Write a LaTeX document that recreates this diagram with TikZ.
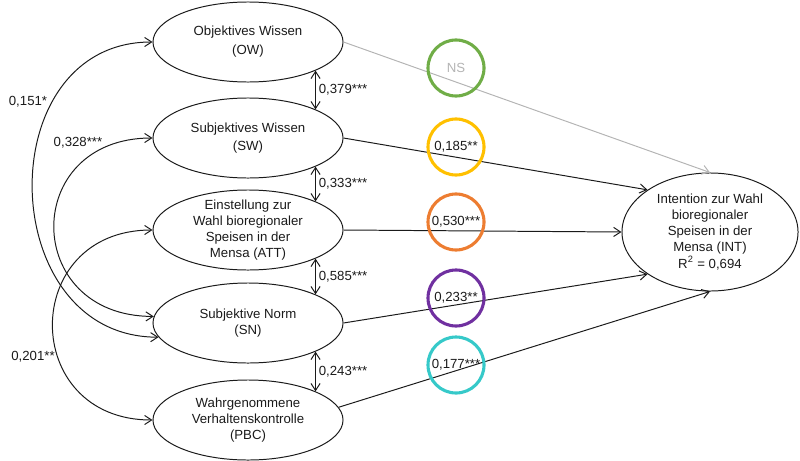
\documentclass[tikz,border=0pt]{standalone}
\usepackage{fontspec}
\setmainfont{Liberation Sans}
\usetikzlibrary{arrows.meta,shapes.geometric}
\definecolor{pathink}{HTML}{1A1A1A}
\definecolor{nsgrey}{HTML}{B4B4B4}
\definecolor{ringgreen}{HTML}{70AD47}
\definecolor{ringyellow}{HTML}{FFC000}
\definecolor{ringorange}{HTML}{ED7D31}
\definecolor{ringpurple}{HTML}{7030A0}
\definecolor{ringcyan}{HTML}{36C9C9}

\begin{document}
\begin{tikzpicture}[
  x=0.025cm,
  y=-0.025cm,
  every node/.style={font=\fontsize{9.4}{11.4}\selectfont, pathink},
  construct/.style={ellipse, draw=pathink, line width=0.7pt, inner sep=0pt,
                    minimum width=4.75cm, minimum height=2cm, align=center},
  target/.style={construct, minimum width=4.4cm, minimum height=2.95cm},
  effect/.style={pathink, line width=0.7pt,
                 -{Straight Barb[length=5pt,width=6.5pt]}},
  nseffect/.style={effect, nsgrey},
  corr/.style={pathink, line width=0.7pt,
               {Straight Barb[length=5pt,width=6.5pt]}-{Straight Barb[length=5pt,width=6.5pt]}},
  coefring/.style={circle, line width=2.2pt, minimum size=1.4cm, inner sep=0pt}
]
  \useasboundingbox (0,0) rectangle (800,460);

  % ---- predictor constructs ----
  \node[construct] (OW)  at (248,42)  {Objektives Wissen\\[2pt](OW)};
  \node[construct] (SW)  at (248,138) {Subjektives Wissen\\[2pt](SW)};
  \node[construct, inner ysep=-2pt] (ATT) at (248,230)
    {Einstellung zur\\Wahl bioregionaler\\Speisen in der\\Mensa (ATT)};
  \node[construct] (SN)  at (248,323) {Subjektive Norm\\(SN)};
  \node[construct] (PBC) at (248,420) {Wahrgenommene\\Verhaltenskontrolle\\(PBC)};

  % ---- outcome ----
  \node[target] (INT) at (710,232)
    {Intention zur Wahl\\bioregionaler\\Speisen in der\\Mensa (INT)\\R\textsuperscript{2} = 0,694};

  % ---- paths into the intention ----
  \draw[nseffect] (OW.east)  -- (INT.north);
  \draw[effect]   (SW.east)  -- (INT.146);
  \draw[effect]   (ATT.east) -- (INT.west);
  \draw[effect]   (SN.east)  -- (INT.214);
  \draw[effect]   (PBC.8)    -- (INT.south);

  % ---- path coefficients in rings ----
  \node[coefring, draw=ringgreen, text=nsgrey] (cOW)  at (456,68)  {NS};
  \node[coefring, draw=ringyellow]             (cSW)  at (456,147) {0,185**};
  \node[coefring, draw=ringorange]             (cATT) at (456,222) {0,530***};
  \node[coefring, draw=ringpurple]             (cSN)  at (456,298) {0,233**};
  \node[coefring, draw=ringcyan]               (cPBC) at (456,365) {0,177***};

  % ---- correlations between neighbours ----
  \draw[corr] (OW.south east) -- (SW.north east)
    node[midway, anchor=west, inner sep=2pt] (rOWSW) {0,379***};
  \draw[corr] (SW.south east) -- (ATT.north east)
    node[midway, anchor=west, inner sep=2pt] (rSWATT) {0,333***};
  \draw[corr] (ATT.south east) -- (SN.north east)
    node[midway, anchor=west, inner sep=2pt] (rATTSN) {0,585***};
  \draw[corr] (SN.south east) -- (PBC.north east)
    node[midway, anchor=west, inner sep=2pt] (rSNPBC) {0,243***};

  % ---- correlations around the left side ----
  \draw[corr] (OW.west)  .. controls +(-164,0) and +(-164,0) .. (SN.189);
  \draw[corr] (SW.west)  .. controls +(-132,0) and +(-132,0) .. (SN.176);
  \draw[corr] (ATT.west) .. controls +(-133,0) and +(-133,0) .. (PBC.west);

  \node (rOWSN)   at (28,102) {0,151*};
  \node (rSWSN)   at (78,143) {0,328***};
  \node (rATTPBC) at (33,357) {0,201**};
\end{tikzpicture}
\end{document}
